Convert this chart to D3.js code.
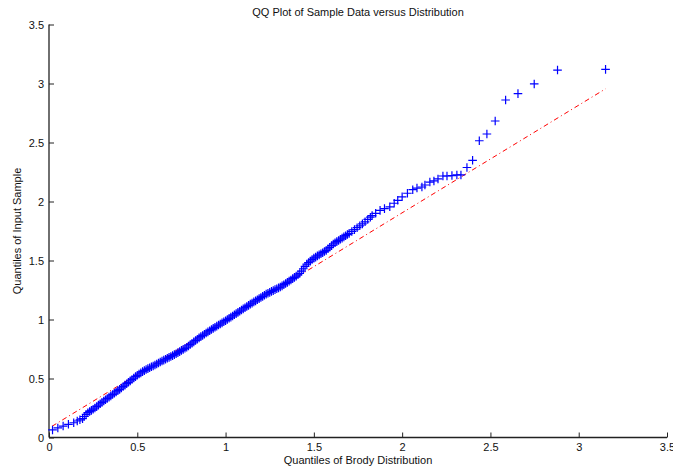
<!DOCTYPE html>
<html><head><meta charset="utf-8">
<script src="https://cdn.jsdelivr.net/npm/d3@7"></script>
<style>
body{margin:0;background:#fff;}
text{font-family:"Liberation Sans",Arial,Helvetica,sans-serif;}
</style></head>
<body><svg id="c" width="673" height="470"></svg>
<script>
const title = "QQ Plot of Sample Data versus Distribution";
const xLabel = "Quantiles of Brody Distribution";
const yLabel = "Quantiles of Input Sample";
const xTicks = [0, 0.5, 1, 1.5, 2, 2.5, 3, 3.5];
const yTicks = [0, 0.5, 1, 1.5, 2, 2.5, 3, 3.5];
const theoQ = [0.02,0.05,0.08,0.11,0.14,0.16,0.175,0.19,0.20,0.21,
0.22,0.23,0.24,0.25,0.26,0.27,0.28,0.29,0.30,0.31,0.32,0.33,0.34,0.35,0.36,0.37,
0.38,0.39,0.40,0.41,0.42,0.43,0.44,0.45,0.46,0.47,0.48,0.49,0.50,0.51,0.52,0.53,0.54,0.55,
0.56,0.57,0.58,0.59,0.60,0.61,0.62,0.63,0.64,0.65,0.66,0.67,0.68,0.69,0.70,0.71,0.72,
0.73,0.74,0.75,0.76,0.77,0.78,0.79,0.80,0.81,0.82,0.83,0.84,0.85,0.86,0.87,0.88,0.89,0.90,
0.91,0.92,0.93,0.94,0.95,0.96,0.97,0.98,0.99,1.00,1.01,1.02,1.03,1.04,1.05,1.06,1.07,1.08,
1.09,1.10,1.11,1.12,1.13,1.14,1.15,1.16,1.17,1.18,1.19,1.20,1.21,1.22,1.23,1.24,1.25,1.26,
1.27,1.28,1.29,1.30,1.31,1.32,1.33,1.34,1.35,1.36,1.37,1.38,1.39,1.40,1.41,1.42,1.43,1.44,
1.45,1.46,1.47,1.48,1.49,1.50,1.51,1.52,1.53,1.54,1.55,1.56,1.57,1.58,1.59,1.60,1.61,1.62,
1.63,1.64,1.65,1.66,1.67,1.68,1.69,1.70,1.715,1.73,1.745,1.76,1.775,1.79,1.805,1.82,1.83,
1.85,1.875,1.90,1.93,1.955,1.975,2.00,2.03,2.06,2.084,2.112,2.129,2.157,2.180,2.203,2.231,
2.254,2.282,2.310,2.333,2.367,2.399,2.437,2.480,2.527,2.586,2.656,2.748,2.880,3.152];
const sampleQ = [0.064,0.081,0.097,0.112,0.125,0.14,0.15,0.16,0.178,0.196,
0.21,0.22,0.23,0.24,0.25,0.262,0.274,0.286,0.298,0.309,0.32,0.331,0.342,0.353,0.364,0.375,
0.386,0.397,0.408,0.42,0.432,0.444,0.456,0.468,0.48,0.492,0.504,0.516,0.527,0.538,0.548,0.558,0.567,0.576,
0.584,0.591,0.599,0.606,0.614,0.623,0.631,0.64,0.648,0.656,0.663,0.671,0.679,0.687,0.694,0.702,0.71,
0.719,0.728,0.738,0.747,0.756,0.765,0.776,0.788,0.799,0.810,0.822,0.833,0.844,0.855,0.865,0.875,0.885,0.895,
0.905,0.915,0.925,0.934,0.944,0.953,0.962,0.971,0.981,0.99,1.00,1.01,1.02,1.03,1.04,1.05,1.06,1.07,
1.08,1.09,1.10,1.11,1.12,1.13,1.139,1.149,1.158,1.168,1.177,1.187,1.196,1.206,1.215,1.223,1.230,1.238,
1.245,1.253,1.260,1.268,1.275,1.285,1.295,1.305,1.315,1.325,1.335,1.346,1.357,1.368,1.379,1.39,1.41,1.43,
1.45,1.47,1.483,1.495,1.508,1.52,1.529,1.539,1.548,1.557,1.566,1.576,1.585,1.599,1.612,1.626,1.64,1.65,
1.66,1.67,1.68,1.69,1.70,1.71,1.72,1.73,1.746,1.762,1.778,1.794,1.810,1.828,1.848,1.867,1.88,
1.90,1.925,1.94,1.955,1.985,2.01,2.04,2.07,2.10,2.114,2.123,2.14,2.165,2.174,2.191,2.216,
2.216,2.220,2.225,2.225,2.288,2.349,2.515,2.572,2.682,2.860,2.914,2.996,3.114,3.120];
const refX = [0.017, 3.152];
const refY = [0.095, 2.955];

const svg = d3.select("#c");
const x = d3.scaleLinear().domain([0, 3.5]).range([49, 667]);
const y = d3.scaleLinear().domain([0, 3.5]).range([437.5, 24.5]);

// axes
const xAxis = d3.axisBottom(x).tickValues(xTicks).tickSize(-5).tickPadding(6).tickFormat(d => d3.format("")(d));
const yAxis = d3.axisLeft(y).tickValues(yTicks).tickSize(-5).tickPadding(5).tickFormat(d => d3.format("")(d));
const gx = svg.append("g").attr("transform", "translate(0,437.5)").call(xAxis);
const gy = svg.append("g").attr("transform", "translate(49,0)").call(yAxis);
[gx, gy].forEach(g => {
  g.select(".domain").attr("stroke", "#222").attr("stroke-width", 1.3);
  g.selectAll(".tick line").attr("stroke", "#222").attr("stroke-width", 1);
  g.selectAll("text").attr("font-size", 11).attr("fill", "#111")
    .style("font-family", '"Liberation Sans",Arial,sans-serif');
});
gx.select(".domain").attr("d", `M49,0H${667}`);
gy.select(".domain").attr("d", `M0,437.5V24.5`);

// reference line
svg.append("line")
  .attr("x1", x(refX[0])).attr("y1", y(refY[0]))
  .attr("x2", x(refX[1])).attr("y2", y(refY[1]))
  .attr("stroke", "#ff0000").attr("stroke-width", 1)
  .attr("stroke-dasharray", "5,3,1,3");

// markers
const pts = theoQ.map((v, i) => [v, sampleQ[i]]);
const s = 4.3;
svg.append("g").selectAll("path").data(pts).join("path")
  .attr("d", d => {
    const cx = x(d[0]), cy = y(d[1]);
    return `M${cx - s},${cy}H${cx + s}M${cx},${cy - s}V${cy + s}`;
  })
  .attr("stroke", "#0000ff").attr("stroke-width", 1.2).attr("fill", "none");

// texts
svg.append("text").attr("x", 358).attr("y", 16).attr("text-anchor", "middle")
  .attr("font-size", 11).attr("fill", "#111").text(title);
svg.append("text").attr("x", 358).attr("y", 464).attr("text-anchor", "middle")
  .attr("font-size", 11).attr("fill", "#111").text(xLabel);
svg.append("text").attr("transform", "translate(21,231) rotate(-90)").attr("text-anchor", "middle")
  .attr("font-size", 11).attr("fill", "#111").text(yLabel);
</script>
</body></html>
